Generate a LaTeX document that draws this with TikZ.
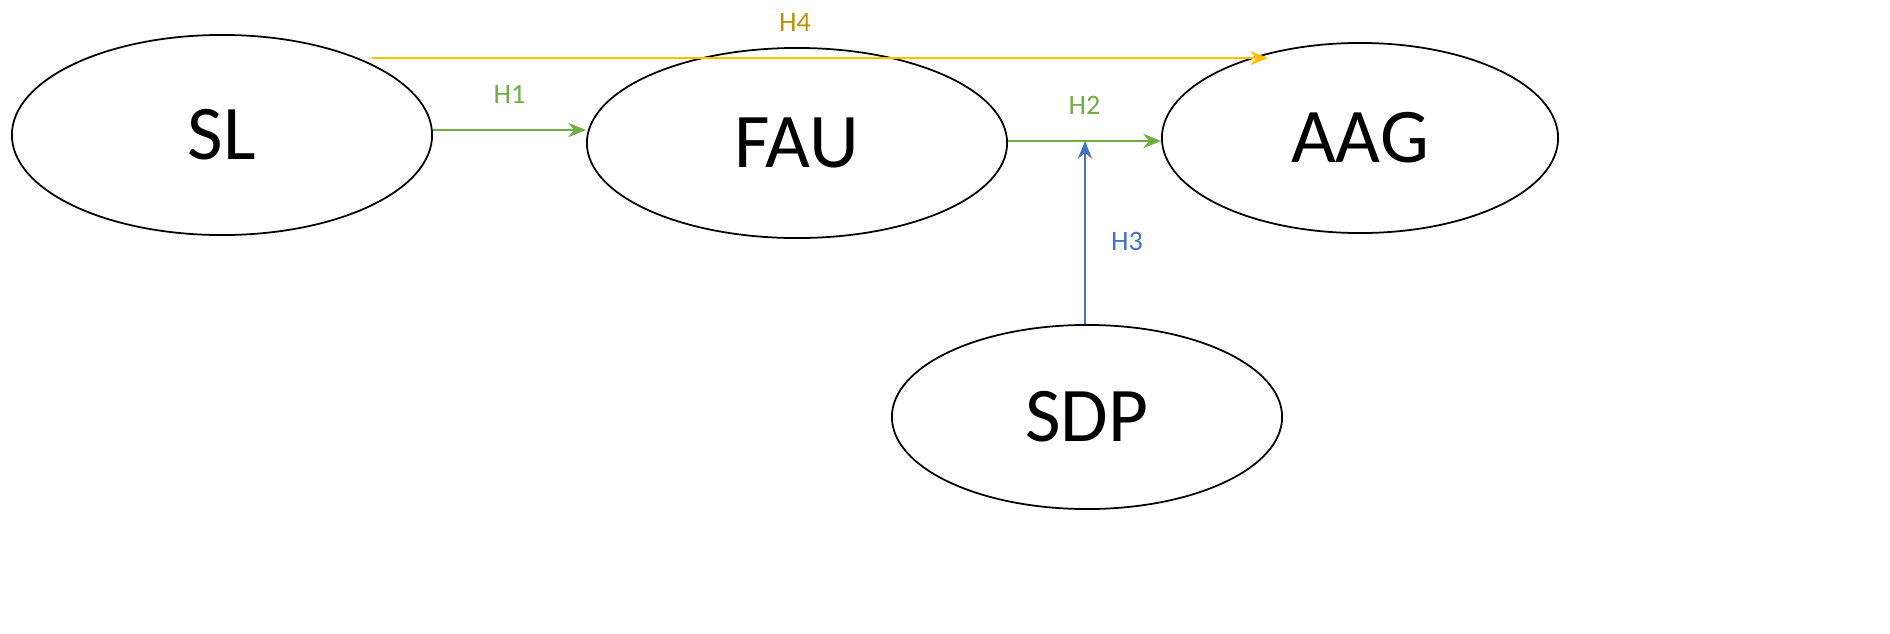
\documentclass[tikz,border=0pt]{standalone}
\usepackage{fontspec}
\setmainfont{Carlito}
\usetikzlibrary{shapes.geometric,arrows.meta}
\definecolor{hgreen}{RGB}{112,173,71}
\definecolor{hblue}{RGB}{68,114,196}
\definecolor{hyellow}{RGB}{255,192,0}
\definecolor{hgold}{RGB}{191,144,0}
\begin{document}
\begin{tikzpicture}[x=0.01cm,y=-0.01cm,
  every node/.style = {inner sep=0pt},
  var/.style = {shape=ellipse, draw, line width=0.5pt, fill=white, font=\fontsize{22}{24}\selectfont},
  hyp/.style = {font=\fontsize{8}{9}\selectfont},
  link/.style = {-{Stealth[length=5pt,width=4pt]}, line width=0.8pt}]
  \useasboundingbox (0,0) rectangle (1890,633);
  \node[var, minimum width=4.2cm, minimum height=2cm] (sl) at (222,135) {SL};
  \node[var, minimum width=4.2cm, minimum height=1.9cm] (fau) at (797,143) {FAU};
  \node[var, minimum width=3.96cm, minimum height=1.9cm] (aag) at (1360,138) {AAG};
  \node[var, minimum width=3.9cm, minimum height=1.84cm] (sdp) at (1087,417) {SDP};
  \coordinate (h4s) at (372,58);
  \coordinate (h4e) at (1268,58);
  \coordinate (h3e) at (1085,141);
  \draw[link, hgreen] (sl.east |- 0,130) -- (fau.west |- 0,130) node[hyp, midway, above=7pt] {H1};
  \draw[link, hgreen] (fau.east |- 0,141) -- (aag.west |- 0,141) node[hyp, midway, above=7pt] {H2};
  \draw[link, hblue] (sdp.north -| h3e) -- (h3e) node[hyp, pos=0.45, right=7pt] {H3};
  \draw[link, hyellow] (h4s) -- (h4e);
  \node[hyp, text=hgold] (h4) at (795,22) {H4};
\end{tikzpicture}
\end{document}
